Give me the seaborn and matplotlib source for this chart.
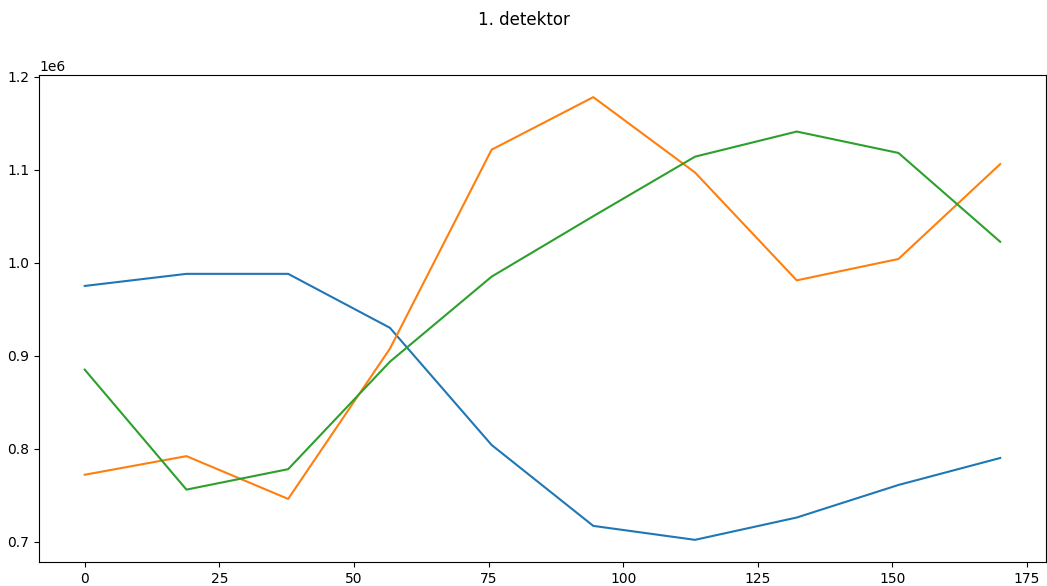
import numpy as np
import pandas as pd
import matplotlib
matplotlib.use("Agg")
import matplotlib.pyplot as plt
import seaborn as sns

x = [0, 18.89, 37.78, 56.67, 75.56, 94.44, 113.33, 132.22, 151.11, 170]
s1 = [0.975e6, 0.988e6, 0.988e6, 0.930e6, 0.804e6, 0.717e6, 0.702e6, 0.726e6, 0.761e6, 0.790e6]
s2 = [0.772e6, 0.792e6, 0.746e6, 0.9075e6, 1.1215e6, 1.178e6, 1.097e6, 0.981e6, 1.004e6, 1.106e6]
s3 = [0.885e6, 0.756e6, 0.778e6, 0.8935e6, 0.985e6, 1.050e6, 1.114e6, 1.141e6, 1.118e6, 1.0225e6]

series = {"s1": s1, "s2": s2, "s3": s3}
df = pd.concat([pd.DataFrame({"x": x, "y": v, "s": k}) for k, v in series.items()])

fig, ax = plt.subplots(figsize=(10.47, 5.86), dpi=100)
sns.lineplot(data=df, x="x", y="y", hue="s", palette=["#1f77b4", "#ff7f0e", "#2ca02c"],
             legend=False, ax=ax, linewidth=1.5)
ax.set_xlabel("")
ax.set_ylabel("")
ax.set_xticks([0, 25, 50, 75, 100, 125, 150, 175])
fig.suptitle("1. detektor", y=0.982)
fig.subplots_adjust(left=0.0372, right=0.999, top=0.872, bottom=0.041)
fig.savefig("out.png", dpi=100)
